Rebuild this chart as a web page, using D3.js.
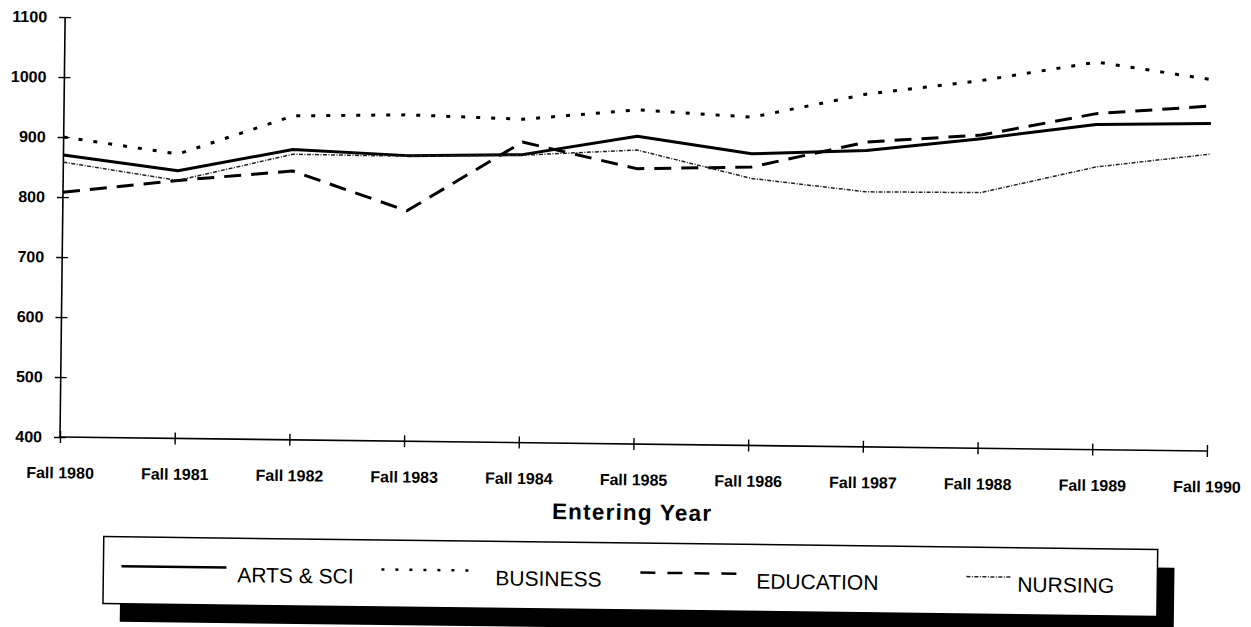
<!DOCTYPE html>
<html>
<head>
<meta charset="utf-8">
<script src="https://cdn.jsdelivr.net/npm/d3@7"></script>
<style>
  html, body { margin: 0; padding: 0; background: #fff; }
  svg { display: block; }
  text { font-family: "Liberation Sans", Arial, Helvetica, sans-serif; fill: #000; }
</style>
</head>
<body>
<svg id="chart" width="1251" height="627"></svg>
<script>
// Entering-year categories and average scores per school
const years = ["Fall 1980", "Fall 1981", "Fall 1982", "Fall 1983", "Fall 1984", "Fall 1985",
               "Fall 1986", "Fall 1987", "Fall 1988", "Fall 1989", "Fall 1990"];
const artsSci   = [870, 846, 884, 876, 880, 913, 886, 894, 916, 942, 946];
const business  = [900, 874, 940, 944, 939, 957, 947, 988, 1013, 1046, 1019];
const education = [808, 830, 848, 784, 901, 859, 864, 908, 922, 960, 975];
const nursing   = [858, 830, 876, 875, 879, 890, 845, 825, 826, 871, 895];
const yTicks = [400, 500, 600, 700, 800, 900, 1000, 1100];
const seriesNames = ["ARTS & SCI", "BUSINESS", "EDUCATION", "NURSING"];

const series = [
  { name: seriesNames[0], values: artsSci,   stroke: "#000", width: 3,   dash: null },
  { name: seriesNames[1], values: business,  stroke: "#000", width: 3,   dash: "4,11" },
  { name: seriesNames[2], values: education, stroke: "#000", width: 3,   dash: "17,10" },
  { name: seriesNames[3], values: nursing,   stroke: "#222", width: 1.5, dash: "4,1.5,1,1.5" }
];

const svg = d3.select("#chart");
// the whole printed page sits at a slight angle
const page = svg.append("g").attr("transform", "rotate(0.7, 60, 437)");

const x = d3.scalePoint().domain(years).range([60, 1207]);
const y = d3.scaleLinear().domain([400, 1100]).range([437, 17]);

// Y axis with ticks crossing the line
const yAxis = page.append("g")
  .attr("transform", "translate(60,0)")
  .call(d3.axisLeft(y).tickValues(yTicks).tickFormat(d3.format("d")).tickSize(6).tickPadding(12));
yAxis.select(".domain").attr("stroke", "#000").attr("stroke-width", 1.6).attr("d", `M0,${y(1100)}V${y(400)}`);
yAxis.selectAll(".tick line").attr("x1", -6).attr("x2", 6).attr("stroke", "#000").attr("stroke-width", 1.4);
yAxis.selectAll(".tick text")
  .style("font-family", "'Liberation Sans', Arial, sans-serif")
  .attr("font-size", 16).attr("font-weight", "bold").attr("fill", "#000");

// X axis
const xAxis = page.append("g")
  .attr("transform", `translate(0,${y(400)})`)
  .call(d3.axisBottom(x).tickSize(6).tickPadding(24));
xAxis.select(".domain").attr("stroke", "#000").attr("stroke-width", 1.6).attr("d", `M${x(years[0])},0H${x(years[years.length - 1])}`);
xAxis.selectAll(".tick line").attr("y1", -6).attr("y2", 6).attr("stroke", "#000").attr("stroke-width", 1.4);
xAxis.selectAll(".tick text")
  .style("font-family", "'Liberation Sans', Arial, sans-serif")
  .attr("font-size", 16).attr("font-weight", "bold").attr("fill", "#000");

// Axis title
page.append("text")
  .attr("x", 633).attr("y", 513)
  .attr("text-anchor", "middle")
  .attr("font-size", 22.5).attr("font-weight", "bold")
  .attr("letter-spacing", 1.2)
  .text("Entering Year");

// Series lines
const line = d3.line()
  .x((d, i) => x(years[i]))
  .y(d => y(d));

page.append("g").selectAll("path")
  .data(series)
  .join("path")
  .attr("fill", "none")
  .attr("stroke", d => d.stroke)
  .attr("stroke-width", d => d.width)
  .attr("stroke-dasharray", d => d.dash)
  .attr("stroke-linejoin", "round")
  .attr("d", d => line(d.values));

// Legend with drop shadow
const legend = page.append("g");
legend.append("rect")
  .attr("x", 122).attr("y", 554).attr("width", 1054).attr("height", 67)
  .attr("fill", "#000");
legend.append("rect")
  .attr("x", 105).attr("y", 536).attr("width", 1054).attr("height", 67)
  .attr("fill", "#fff").attr("stroke", "#000").attr("stroke-width", 1.5);

const legendItems = [
  { x1: 123, x2: 228, tx: 239 },
  { x1: 383, x2: 480, tx: 497 },
  { x1: 642, x2: 742, tx: 758 },
  { x1: 968, x2: 1012, tx: 1019 }
];
const items = legend.selectAll("g.item")
  .data(series)
  .join("g").attr("class", "item");
items.append("line")
  .attr("x1", (d, i) => legendItems[i].x1)
  .attr("x2", (d, i) => legendItems[i].x2)
  .attr("y1", 565.5).attr("y2", 565.5)
  .attr("stroke", d => d.stroke)
  .attr("stroke-width", d => d.width === 3 ? 2.5 : d.width)
  .attr("stroke-dasharray", d => d.dash === "4,11" ? "3,11" : (d.dash === "17,10" ? "15,12" : d.dash));
items.append("text")
  .attr("x", (d, i) => legendItems[i].tx)
  .attr("y", 580)
  .attr("font-size", 21)
  .text(d => d.name);
</script>
</body>
</html>
